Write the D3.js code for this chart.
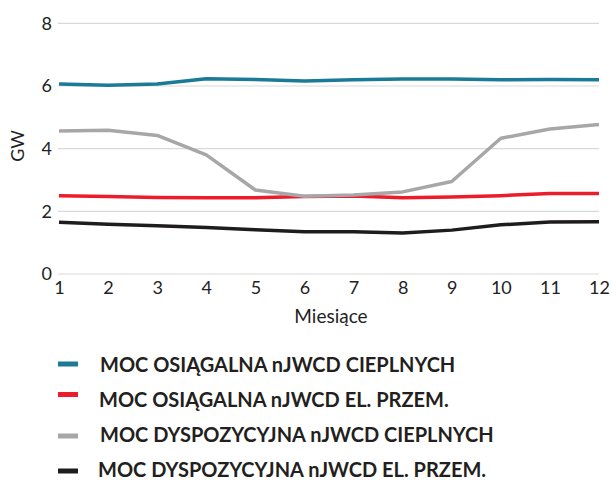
<!DOCTYPE html>
<html>
<head>
<meta charset="utf-8">
<script src="https://cdn.jsdelivr.net/npm/d3@7/dist/d3.min.js"></script>
<style>
  body { margin: 0; background: #fff; }
  svg { display: block; font-family: Lato, "Open Sans", sans-serif; }
</style>
</head>
<body>
<svg id="chart" width="612" height="480"></svg>
<script>
const months = [1, 2, 3, 4, 5, 6, 7, 8, 9, 10, 11, 12];
const yTicks = [0, 2, 4, 6, 8];
const seriesNames = [
  "MOC OSIĄGALNA nJWCD CIEPLNYCH",
  "MOC OSIĄGALNA nJWCD EL. PRZEM.",
  "MOC DYSPOZYCYJNA nJWCD CIEPLNYCH",
  "MOC DYSPOZYCYJNA nJWCD EL. PRZEM."
];
const seriesColors = ["#1b7b97", "#ec1c2b", "#a7a7a9", "#1f1c1d"];
const osiagalnaCiepl = [6.06, 6.02, 6.06, 6.23, 6.21, 6.16, 6.20, 6.22, 6.22, 6.20, 6.21, 6.20];
const osiagalnaEl = [2.50, 2.47, 2.44, 2.43, 2.43, 2.47, 2.49, 2.43, 2.46, 2.50, 2.57, 2.57];
const dyspCiepl = [4.56, 4.59, 4.42, 3.80, 2.68, 2.48, 2.52, 2.62, 2.95, 4.33, 4.63, 4.77];
const dyspEl = [1.65, 1.59, 1.54, 1.48, 1.41, 1.35, 1.35, 1.31, 1.40, 1.57, 1.66, 1.67];
const seriesValues = [osiagalnaCiepl, osiagalnaEl, dyspCiepl, dyspEl];

const svg = d3.select("#chart");
const x = d3.scaleLinear().domain([1, 12]).range([59, 599]);
const y = d3.scaleLinear().domain([0, 8]).range([274, 23.3]);

// gridlines
svg.append("g").selectAll("line").data(yTicks).join("line")
  .attr("x1", 58).attr("x2", 599)
  .attr("y1", d => y(d)).attr("y2", d => y(d))
  .attr("stroke", "#d9d9d9").attr("stroke-width", 1.2);

// y axis labels
const yAxis = d3.axisLeft(y).tickValues(yTicks).tickSize(0).tickPadding(0);
const gy = svg.append("g").attr("transform", "translate(52,0)").call(yAxis);
gy.select(".domain").remove();
gy.selectAll("text").attr("font-size", 18).attr("fill", "#222").attr("font-family", "Lato");

// x axis labels
const xAxis = d3.axisBottom(x).tickValues(months).tickSize(0).tickPadding(0).tickFormat(d3.format("d"));
const gx = svg.append("g").attr("transform", "translate(0,281)").call(xAxis);
gx.select(".domain").remove();
gx.selectAll("text").attr("font-size", 18).attr("fill", "#222").attr("font-family", "Lato");

// axis titles
svg.append("text").attr("transform", "translate(24,146) rotate(-90)")
  .attr("text-anchor", "middle").attr("font-size", 18).attr("fill", "#222").text("GW");
svg.append("text").attr("x", 331).attr("y", 323)
  .attr("text-anchor", "middle").attr("font-size", 19).attr("fill", "#222").text("Miesiące");

// lines
const line = d3.line().x((d, i) => x(months[i])).y(d => y(d));
svg.append("g").selectAll("path").data(seriesValues).join("path")
  .attr("d", d => line(d))
  .attr("fill", "none")
  .attr("stroke", (d, i) => seriesColors[i])
  .attr("stroke-width", 3.5)
  .attr("stroke-linejoin", "round");

// legend
const legendSwatchY = [364, 394.5, 436, 471];
const legendTextY = [372, 407, 442, 477];
const legendTextX = [100, 99, 100, 98];
const lg = svg.append("g").selectAll("g").data(seriesNames).join("g");
lg.append("line")
  .attr("x1", 58).attr("x2", 78)
  .attr("y1", (d, i) => legendSwatchY[i]).attr("y2", (d, i) => legendSwatchY[i])
  .attr("stroke", (d, i) => seriesColors[i]).attr("stroke-width", 5);
lg.append("text")
  .attr("x", (d, i) => legendTextX[i]).attr("y", (d, i) => legendTextY[i])
  .attr("font-size", 20).attr("font-weight", 700).attr("fill", "#231f20")
  .text(d => d);
</script>
</body>
</html>
